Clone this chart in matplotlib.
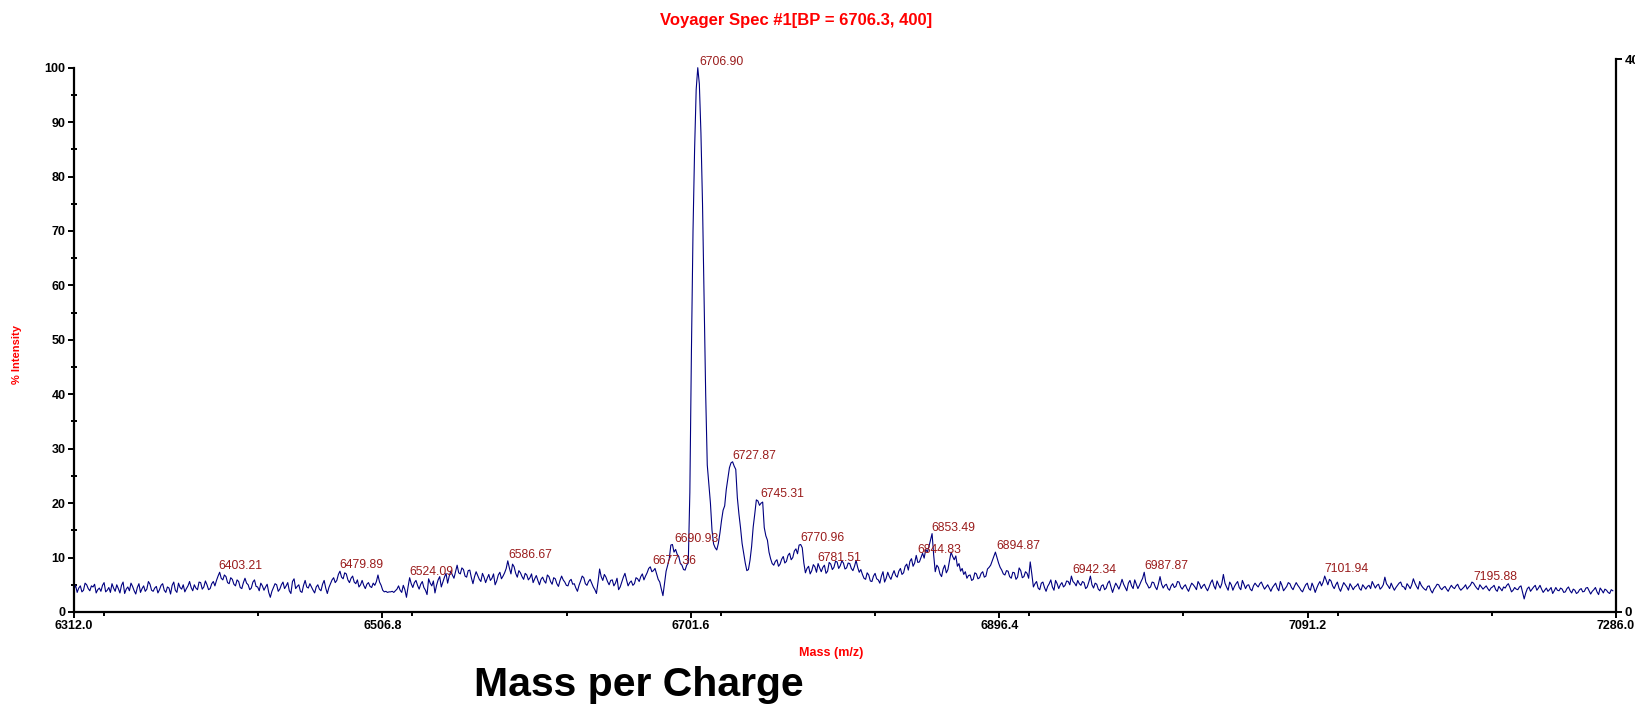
import numpy as np
import matplotlib
matplotlib.use('Agg')
import matplotlib.pyplot as plt
from matplotlib import font_manager
from matplotlib.ticker import MultipleLocator, FixedLocator

# espectro, um ponto por Da a partir de 6312
mz_inicio = 6312
mz_passo = 1

int_6312_6511 = [
    4.2, 4.9, 3.6, 4.4, 4.8, 3.7, 4.0, 5.3, 5.0, 4.3, 3.9, 4.8, 4.6, 5.1, 3.5, 4.1, 4.4, 3.8, 4.9, 5.4, 3.7, 4.0, 4.5, 3.6, 5.2,
    4.4, 3.8, 5.0, 4.3, 3.5, 4.9, 5.5, 3.4, 4.2, 4.6, 3.9, 5.3, 4.7, 3.9, 3.3, 4.5, 5.2, 3.6, 4.3, 4.8, 3.8, 4.2, 5.6, 5.1, 4.0,
    3.8, 4.4, 4.7, 3.5, 4.1, 4.9, 5.2, 4.0, 3.6, 4.6, 4.4, 3.3, 4.9, 5.5, 4.0, 3.6, 5.3, 4.5, 4.2, 5.0, 3.7, 4.3, 4.8, 5.6, 4.5,
    3.9, 5.0, 4.4, 4.1, 5.5, 5.4, 4.2, 4.6, 5.7, 5.0, 4.1, 4.3, 5.2, 5.6, 4.8, 5.8, 6.6, 7.3, 6.2, 5.9, 6.8, 6.5, 5.4, 5.2, 6.3,
    6.0, 5.1, 4.8, 5.9, 5.6, 4.5, 4.3, 5.4, 6.2, 5.3, 5.0, 4.1, 4.4, 5.5, 5.9, 4.7, 4.6, 3.9, 5.3, 4.8, 4.0, 4.6, 5.1, 3.6, 2.7,
    3.8, 4.5, 5.2, 5.0, 3.8, 4.2, 5.0, 5.5, 4.3, 4.8, 5.4, 3.9, 3.4, 5.6, 6.1, 4.3, 4.7, 5.0, 3.8, 3.6, 4.9, 5.8, 4.6, 4.4, 5.2,
    4.6, 4.0, 3.5, 4.6, 5.0, 4.2, 3.9, 5.1, 5.8, 4.4, 3.4, 4.5, 5.2, 5.9, 6.3, 5.4, 5.8, 6.9, 7.5, 6.4, 6.1, 7.2, 7.0, 5.9, 5.4,
    6.2, 6.6, 5.5, 5.2, 5.9, 4.6, 5.0, 5.8, 4.9, 4.3, 5.1, 5.4, 4.7, 4.5, 5.3, 4.9, 5.6, 6.8, 5.5, 4.9, 4.0, 3.7, 3.8, 3.6, 3.7,
]
int_6512_6711 = [
    3.7, 3.8, 3.6, 3.9, 4.2, 4.8, 4.0, 3.6, 4.9, 4.1, 2.7, 4.6, 6.3, 5.2, 4.5, 5.4, 5.8, 4.9, 4.2, 5.1, 5.6, 4.5, 4.0, 3.2, 6.1,
    5.3, 4.8, 5.7, 3.5, 4.9, 5.9, 6.5, 4.6, 5.5, 6.4, 7.1, 5.3, 6.6, 7.5, 6.8, 6.2, 7.4, 8.6, 7.2, 7.0, 8.1, 7.8, 6.6, 6.4, 7.6,
    7.7, 6.3, 5.2, 6.5, 7.4, 6.7, 6.0, 5.6, 7.1, 6.4, 5.4, 6.2, 6.9, 5.8, 6.2, 7.0, 5.0, 5.7, 6.8, 7.3, 6.1, 6.6, 7.2, 8.0, 9.4,
    8.1, 7.0, 8.8, 8.3, 7.1, 6.4, 7.6, 7.2, 6.5, 6.0, 7.1, 6.8, 5.9, 6.3, 7.0, 5.4, 6.1, 6.7, 5.8, 5.0, 6.0, 6.4, 5.7, 5.3, 6.8,
    6.5, 5.6, 5.1, 6.3, 6.1, 5.2, 4.7, 5.8, 6.6, 5.9, 5.5, 4.9, 4.8, 5.7, 6.0, 5.1, 5.2, 4.4, 3.8, 4.9, 5.7, 6.6, 6.3, 5.2, 4.9,
    5.6, 6.0, 5.3, 4.6, 4.1, 3.4, 5.5, 7.9, 6.5, 5.8, 6.9, 6.4, 5.6, 5.0, 5.8, 5.9, 4.8, 5.3, 6.2, 4.1, 4.6, 5.5, 6.4, 7.1, 5.9,
    4.8, 5.4, 5.7, 4.9, 5.2, 6.3, 6.1, 5.6, 6.5, 7.0, 5.9, 6.6, 7.2, 8.0, 8.3, 7.4, 7.6, 8.0, 7.0, 6.0, 5.5, 4.2, 3.0, 5.2, 7.5,
    8.6, 9.8, 12.3, 12.4, 11.0, 11.5, 10.6, 10.2, 8.9, 8.6, 7.8, 7.7, 8.6, 9.0, 22.0, 48.0, 70.0, 85.0, 96.0, 100.0, 97.0, 88.0, 75.0, 58.0, 40.0,
]
int_6712_6911 = [
    27.0, 23.5, 20.0, 15.0, 12.5, 11.8, 11.4, 12.6, 14.5, 16.8, 18.7, 19.5, 22.5, 24.5, 26.5, 27.4, 27.6, 26.8, 26.2, 21.0, 18.0, 15.5, 12.6, 10.8, 9.0,
    7.6, 7.8, 9.5, 12.0, 15.6, 18.0, 20.6, 20.4, 19.6, 20.0, 20.2, 15.5, 14.0, 13.2, 11.0, 9.8, 8.9, 8.6, 9.3, 9.6, 8.4, 8.8, 9.7, 10.2, 9.0,
    9.3, 10.4, 10.8, 9.6, 10.0, 11.2, 11.6, 10.7, 12.3, 12.4, 11.8, 9.0, 7.2, 8.0, 8.4, 7.0, 7.6, 8.7, 8.3, 7.3, 8.9, 8.1, 7.4, 8.2, 8.6,
    7.1, 7.5, 9.1, 8.8, 7.8, 8.2, 9.3, 9.2, 8.0, 8.5, 9.4, 9.0, 7.9, 8.1, 9.0, 8.9, 8.0, 7.6, 8.4, 9.5, 8.2, 7.3, 7.8, 6.9, 6.2,
    6.0, 7.2, 6.8, 5.7, 5.6, 6.6, 7.1, 6.1, 5.9, 5.3, 6.6, 7.4, 5.5, 6.2, 7.3, 6.5, 6.0, 6.9, 7.6, 6.7, 6.4, 7.5, 8.0, 6.9, 7.2,
    8.4, 8.8, 7.7, 9.3, 9.8, 8.4, 9.0, 10.4, 9.1, 9.2, 10.0, 10.8, 9.9, 11.5, 11.0, 12.0, 13.2, 14.4, 10.5, 7.4, 8.6, 8.2, 7.0, 6.5, 7.9,
    8.6, 7.2, 7.8, 9.4, 11.0, 10.2, 9.6, 10.3, 8.4, 8.9, 7.5, 8.0, 6.9, 7.4, 6.2, 6.7, 6.8, 5.8, 6.0, 7.2, 7.0, 6.1, 6.3, 7.1, 7.4,
    6.4, 6.6, 7.9, 8.2, 8.6, 9.4, 10.2, 11.0, 10.0, 9.0, 8.2, 7.7, 7.0, 6.8, 7.6, 7.5, 6.5, 6.2, 7.3, 7.2, 6.0, 6.4, 8.1, 7.6, 6.3,
]
int_6912_7111 = [
    6.5, 7.4, 7.1, 6.2, 9.2, 7.0, 4.6, 5.2, 5.6, 4.4, 4.1, 5.3, 5.5, 4.5, 3.8, 4.7, 5.2, 5.9, 4.6, 4.0, 5.8, 5.2, 4.3, 5.0, 5.4,
    4.6, 4.9, 5.7, 5.6, 5.0, 6.6, 5.6, 5.3, 4.8, 5.8, 5.2, 4.9, 5.6, 5.4, 4.3, 4.6, 5.5, 6.6, 5.0, 4.4, 5.3, 5.1, 4.2, 3.9, 4.8,
    5.0, 4.1, 4.4, 5.3, 5.7, 4.6, 3.6, 4.5, 5.3, 4.8, 4.2, 5.0, 6.0, 5.1, 4.5, 3.9, 5.3, 5.8, 4.8, 4.3, 5.9, 5.1, 4.3, 4.9, 5.6,
    6.2, 7.3, 5.5, 5.0, 4.4, 4.6, 5.5, 5.4, 4.6, 4.1, 5.2, 6.5, 5.1, 4.4, 4.9, 5.1, 4.3, 4.0, 4.8, 5.2, 4.5, 4.7, 5.6, 5.5, 4.6,
    4.2, 4.7, 5.0, 4.3, 3.8, 4.6, 5.3, 5.0, 4.6, 4.1, 5.6, 5.1, 4.3, 4.8, 5.1, 4.4, 3.9, 4.6, 5.4, 5.9, 4.8, 4.2, 5.7, 5.0, 4.4,
    5.2, 6.9, 5.3, 4.6, 4.0, 5.5, 5.0, 4.0, 4.7, 5.2, 5.6, 4.5, 4.1, 5.8, 5.1, 4.3, 4.9, 5.0, 4.2, 3.9, 4.8, 5.3, 4.9, 4.6, 5.2,
    5.5, 4.8, 4.2, 4.6, 5.0, 4.4, 3.8, 4.5, 4.9, 5.3, 4.4, 3.9, 5.6, 4.9, 3.9, 4.3, 4.7, 5.4, 5.2, 4.5, 4.1, 4.8, 5.4, 4.9, 4.5,
    4.0, 3.7, 4.4, 5.0, 5.3, 4.3, 4.0, 5.3, 4.6, 3.6, 4.4, 5.1, 5.6, 4.8, 5.5, 6.6, 5.8, 5.0, 6.0, 5.7, 4.8, 4.3, 5.0, 5.5, 4.4,
]
int_7112_7284 = [
    3.8, 4.6, 5.4, 5.0, 4.6, 4.0, 5.2, 4.7, 4.1, 4.6, 4.8, 5.2, 4.3, 4.0, 5.0, 4.6, 4.2, 4.7, 4.9, 4.3, 5.6, 5.0, 4.4, 4.9, 5.1,
    4.2, 4.5, 5.0, 6.4, 5.2, 4.8, 4.3, 5.3, 4.6, 4.0, 4.5, 4.9, 5.3, 5.5, 4.7, 4.6, 4.1, 5.2, 4.8, 4.3, 5.0, 6.1, 5.3, 4.7, 4.2,
    5.6, 4.9, 4.5, 4.2, 4.0, 4.7, 4.8, 4.0, 3.5, 4.2, 4.6, 5.1, 5.0, 4.4, 4.1, 4.5, 4.7, 4.2, 3.8, 4.4, 4.9, 4.5, 4.3, 4.8, 5.1,
    4.4, 4.0, 4.3, 4.6, 5.0, 4.2, 4.6, 4.9, 5.5, 5.3, 4.8, 4.4, 4.1, 5.0, 4.6, 4.2, 4.5, 4.8, 4.3, 3.9, 4.4, 4.6, 4.9, 4.1, 3.8,
    4.7, 4.3, 3.9, 4.6, 4.4, 4.9, 5.2, 4.5, 3.7, 4.0, 4.5, 4.2, 4.1, 4.6, 4.8, 3.6, 2.4, 3.5, 4.3, 4.6, 3.8, 4.2, 4.6, 4.9, 4.0,
    4.4, 4.9, 4.2, 3.6, 4.0, 4.4, 3.8, 4.1, 4.5, 3.4, 3.9, 4.5, 4.0, 3.9, 4.4, 4.2, 3.6, 3.7, 4.3, 4.6, 3.9, 3.5, 4.2, 4.0, 3.4,
    3.6, 4.1, 4.3, 3.7, 3.8, 4.4, 4.5, 3.9, 3.3, 3.8, 4.1, 4.5, 3.7, 3.2, 4.4, 4.0, 3.5, 4.2, 4.0, 3.6, 3.4, 4.1, 3.9,
]

# picos anotados
picos_mz = [6403.21, 6479.89, 6524.09, 6586.67, 6677.36, 6690.93, 6706.90, 6727.87, 6745.31,
            6770.96, 6781.51, 6844.83, 6853.49, 6894.87, 6942.34, 6987.87, 7101.94, 7195.88]
picos_int = [7.3, 7.5, 6.3, 9.4, 8.3, 12.4, 100.0, 27.6, 20.6,
             12.5, 8.9, 10.4, 14.4, 11.0, 6.6, 7.3, 6.9, 5.4]

x_min, x_max = 6312.0, 7286.0
x_ticks = [6312.0, 6506.8, 6701.6, 6896.4, 7091.2, 7286.0]
y_ticks = [0, 10, 20, 30, 40, 50, 60, 70, 80, 90, 100]
contagens_max = 400

intensidade = np.array(int_6312_6511 + int_6512_6711 + int_6712_6911 + int_6912_7111 + int_7112_7284)
massa = mz_inicio + mz_passo * np.arange(len(intensidade))

nomes = {f.name for f in font_manager.fontManager.ttflist}
estreita = 'Liberation Sans Narrow' if 'Liberation Sans Narrow' in nomes else 'Liberation Sans'
plt.rcParams['font.family'] = [estreita, 'DejaVu Sans']

W, H = 1635, 708
fig = plt.figure(figsize=(W / 100, H / 100), dpi=100)
x0, x1 = 74, 1616
y_base, y_100, y_topo = 612, 67.7, 59
ax = fig.add_axes([x0 / W, 1 - y_base / H, (x1 - x0) / W, (y_base - y_topo) / H])

ax.plot(massa, intensidade, color='#000080', lw=0.8)
ax.set_xlim(x_min, x_max)
ax.set_ylim(0, 100 * (y_base - y_topo) / (y_base - y_100))

for mz, h in zip(picos_mz, picos_int):
    ax.annotate(f'{mz:.2f}', xy=(mz, h), xytext=(0, 2), textcoords='offset points',
                ha='left', va='baseline', color='#9a1c1c', fontsize=8.8)

ax.spines['top'].set_visible(False)
ax.spines['right'].set_visible(False)
ax.spines['left'].set_bounds(0, 100)
ax.spines['left'].set_linewidth(1.6)
ax.spines['bottom'].set_linewidth(1.6)

ax.xaxis.set_major_locator(FixedLocator(x_ticks))
ax.xaxis.set_minor_locator(MultipleLocator(97.4))
ax.set_xticklabels([f'{t:.1f}' for t in x_ticks], fontweight='bold', fontsize=9)
ax.set_yticks(y_ticks)
ax.yaxis.set_minor_locator(FixedLocator([5, 15, 25, 35, 45, 55, 65, 75, 85, 95]))
ax.set_yticklabels([str(t) for t in y_ticks], fontweight='bold', fontsize=9)
ax.tick_params(axis='both', which='major', direction='out', length=4.5, width=1.4, pad=1.5)
ax.tick_params(axis='x', which='minor', direction='out', length=3, width=1.4)
ax.tick_params(axis='y', which='minor', direction='inout', length=4, width=1.4)

ax2 = ax.twinx()
ax2.set_ylim(0, contagens_max)
ax2.set_yticks([0, contagens_max])
ax2.set_yticklabels(['0', str(contagens_max)], fontweight='bold', fontsize=9.5)
for lado in ['left', 'top', 'bottom']:
    ax2.spines[lado].set_visible(False)
ax2.spines['right'].set_linewidth(1.6)
ax2.tick_params(axis='y', direction='out', length=4, width=1.4, pad=2)

fig.text(796 / W, 1 - 21 / H, 'Voyager Spec #1[BP = 6706.3, 400]', color='red',
         fontweight='bold', fontsize=12, ha='center', va='center')
fig.text(17 / W, 1 - 354 / H, '% Intensity', color='red', fontweight='bold',
         fontsize=8, rotation=90, ha='center', va='center')
fig.text(831 / W, 1 - 653 / H, 'Mass (m/z)', color='red', fontweight='bold',
         fontsize=9, ha='center', va='center')
fig.text(474 / W, 1 - 696.5 / H, 'Mass per Charge', color='black', fontweight='bold',
         fontsize=29.5, ha='left', va='baseline', family=['Liberation Sans', 'DejaVu Sans'])

fig.savefig('out.png', dpi=100)
